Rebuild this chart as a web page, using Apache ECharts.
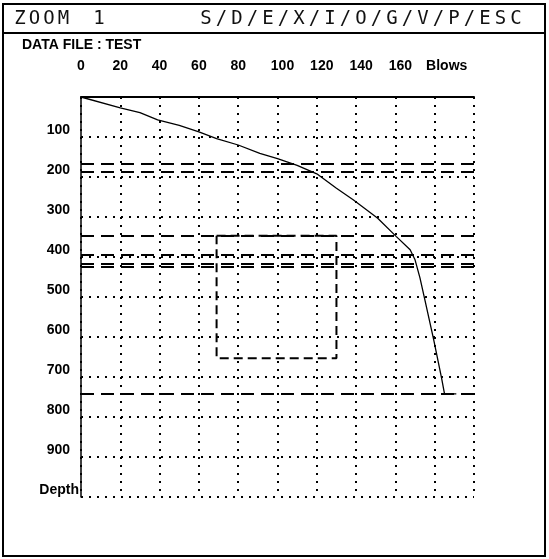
<!DOCTYPE html>
<html>
<head>
<meta charset="utf-8">
<title>ZOOM 1</title>
<script src="https://cdn.jsdelivr.net/npm/echarts@6/dist/echarts.min.js"></script>
<style>
    html, body { margin: 0; padding: 0; background: #fff; }
    #chart { width: 549px; height: 559px; }
</style>
</head>
<body>
<div id="chart"></div>
<script>
    // penetration curve (blows, depth)
    const blows = [0, 20, 30, 39, 50, 60, 69, 80, 91, 100, 110, 120, 130, 138.5, 151, 160.5, 167.5, 170, 172.5, 175, 179.5, 183.5, 185, 191];
    const depth = [0, 27, 39, 57, 71, 87, 104, 120, 141, 154, 171, 192, 228, 257, 303, 349, 382, 407, 452, 507, 607, 703, 742, 742];
    // long dashed layer lines
    const layerDepths = [167, 187, 346, 395, 417, 425, 741];
    // zoom box corners
    const boxBlows = [69, 130, 130, 69, 69];
    const boxDepths = [347, 347, 653, 653, 347];
    // tick labels
    const xTicks = ['0', '20', '40', '60', '80', '100', '120', '140', '160', 'Blows', ''];
    const yTicks = ['', '100', '200', '300', '400', '500', '600', '700', '800', '900', 'Depth'];
    const headLeft = 'ZOOM';
    const headNum = '1';
    const headRight = 'S/D/E/X/I/O/G/V/P/ESC';
    const fileLabel = 'DATA FILE : TEST';

    const chart = echarts.init(document.getElementById('chart'));

    const mono = { fontFamily: 'DejaVu Sans Mono', fontSize: 19, fill: '#111', align: 'center', verticalAlign: 'middle' };
    const headGraphics = [];
    headLeft.split('').forEach((c, i) => {
        headGraphics.push({ type: 'text', x: 20 + i * 14.5, y: 19, style: Object.assign({ text: c }, mono) });
    });
    headGraphics.push({ type: 'text', x: 99, y: 19, style: Object.assign({ text: headNum }, mono) });
    headRight.split('').forEach((c, i) => {
        headGraphics.push({ type: 'text', x: 206 + i * 15.5, y: 19, style: Object.assign({ text: c }, mono) });
    });

    const dotted = { color: '#000', width: 2, type: [2, 6] };
    const lab = { fontWeight: 'bold', fontSize: 14, fontFamily: 'Liberation Sans', color: '#000' };

    const option = {
        animation: false,
        backgroundColor: '#fff',
        grid: { left: 81, top: 97, width: 393, height: 400 },
        graphic: [
            { type: 'rect', shape: { x: 3, y: 4, width: 542, height: 552 }, style: { fill: 'none', stroke: '#000', lineWidth: 2 } },
            { type: 'line', shape: { x1: 3, y1: 33, x2: 545, y2: 33 }, style: { stroke: '#000', lineWidth: 2 } },
            { type: 'text', x: 22, y: 45, style: { text: fileLabel, fontFamily: 'Liberation Sans', fontWeight: 'bold', fontSize: 14, fill: '#000', verticalAlign: 'middle' } }
        ].concat(headGraphics),
        xAxis: {
            type: 'value',
            position: 'top',
            min: 0,
            max: 200,
            interval: 20,
            axisLine: { show: true, lineStyle: { color: '#000', width: 2 } },
            axisTick: { show: false },
            axisLabel: Object.assign({
                margin: 24,
                formatter: (v, i) => {
                    const t = xTicks[i] || '';
                    if (t === 'Blows') return '{b|' + t + '}';
                    if (i >= 5 && t) return '{s|' + t + '}';
                    return t;
                },
                rich: {
                    s: Object.assign({ padding: [0, 0, 0, 10] }, lab),
                    b: Object.assign({ padding: [0, 0, 0, 24] }, lab)
                }
            }, lab),
            splitLine: { show: true, lineStyle: dotted }
        },
        yAxis: {
            type: 'value',
            inverse: true,
            min: 0,
            max: 1000,
            interval: 100,
            axisLine: { show: true, lineStyle: { color: '#000', width: 1.5 } },
            axisTick: { show: false },
            axisLabel: Object.assign({
                margin: 2,
                verticalAlign: 'bottom',
                formatter: (v, i) => {
                    const t = yTicks[i] || '';
                    if (t && t !== 'Depth') return '{n|' + t + '}';
                    return t;
                },
                rich: {
                    n: Object.assign({ padding: [0, 9, 0, 0] }, lab)
                }
            }, lab),
            splitLine: { show: true, lineStyle: dotted }
        },
        series: [
            {
                name: 'curve',
                type: 'line',
                data: blows.map((b, i) => [b, depth[i]]),
                symbol: 'none',
                lineStyle: { color: '#000', width: 1.3 },
                markLine: {
                    silent: true,
                    symbol: ['none', 'none'],
                    label: { show: false },
                    lineStyle: { color: '#000', width: 2, type: [13, 7] },
                    data: layerDepths.map(d => ({ yAxis: d }))
                }
            },
            {
                name: 'box',
                type: 'line',
                data: boxBlows.map((b, i) => [b, boxDepths[i]]),
                symbol: 'none',
                lineStyle: { color: '#000', width: 2, type: [9, 5] }
            }
        ]
    };
    chart.setOption(option);
</script>
</body>
</html>
